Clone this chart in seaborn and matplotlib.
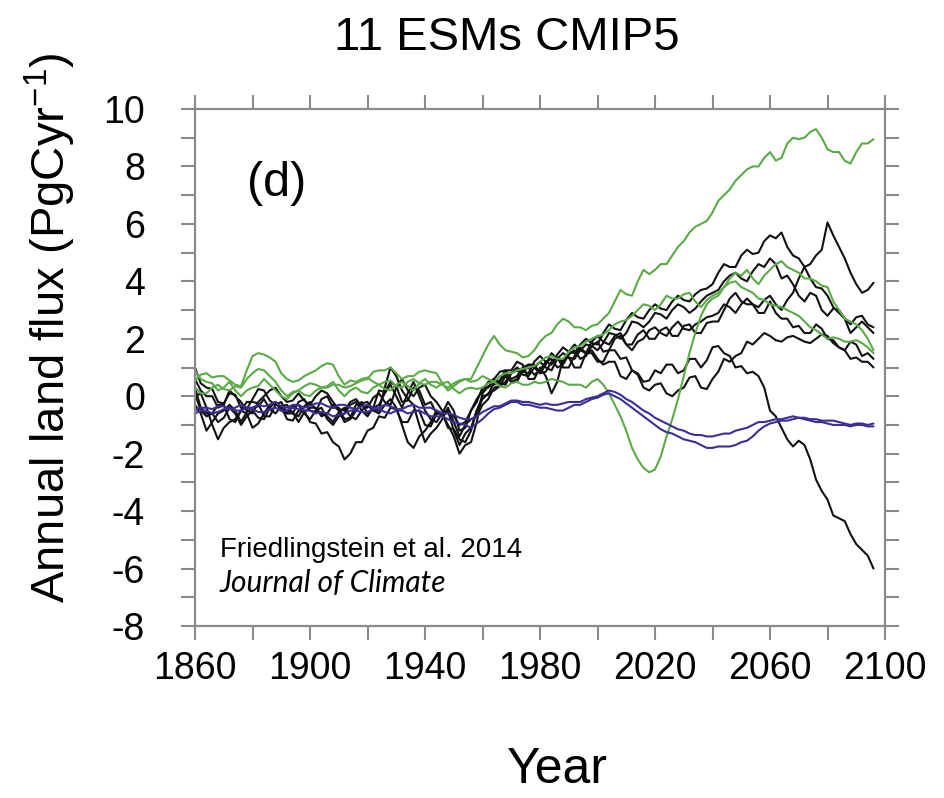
import matplotlib
matplotlib.use("Agg")
import matplotlib.pyplot as plt
import numpy as np
import pandas as pd
import seaborn as sns
from matplotlib.ticker import FixedLocator

# ---------------- data ----------------
# values at 1860, 1864, ..., 2096  and at the years in between (1862, 1866, ..., 2094)
years = list(range(1860, 2097, 4))
years_mid = list(range(1862, 2095, 4))

B1 = [1.0, 0.3, -0.2, 0.1, -0.4, -0.1, 0.2, -0.3, -0.6, -0.2,
      -0.5, -0.1, -0.4, -0.8, -0.3, -0.6, 0.2, 0.5, -0.2, 0.3,
      -0.3, -0.6, -0.2, -1.2, -0.5, 0.3, 0.6, 0.9, 0.7, 1.1,
      0.8, 1.2, 1.0, 1.4, 1.5, 1.2, 1.6, 1.3, 0.9, 0.5,
      0.9, 1.1, 0.8, 1.3, 1.0, 1.7, 1.5, 1.0, 0.8, 0.7,
      -0.5, -1.1, -1.75, -1.7, -2.9, -3.6, -4.25, -4.8, -5.35, -6.0]
B1_mid = [0.45, 0.25, -0.25, 0.05, -0.45, 0.25, -0.15, -0.2, -0.6, -0.1,
          -0.55, 0.0, -0.4, -0.75, -0.2, -0.4, 0.15, 0.35, -0.15, 0.2,
          -0.2, -0.6, -0.5, -1.1, -0.2, 0.3, 0.85, 0.6, 1.0, 1.1,
          0.85, 1.35, 1.0, 1.7, 1.5, 1.2, 1.6, 1.35, 0.8, 0.55,
          0.8, 1.1, 0.9, 1.3, 1.25, 1.75, 1.4, 1.05, 0.85, 0.3,
          -0.7, -1.5, -1.55, -2.2, -3.3, -4.15, -4.35, -5.15, -5.55]

B2 = [0.3, -0.6, -0.3, -0.8, -0.5, -0.2, -0.7, -0.3, -0.8, -0.5,
      -0.9, -1.3, -1.6, -2.2, -1.6, -1.2, -0.7, -0.4, -0.9, -0.5,
      -1.0, -0.6, -1.1, -1.5, -1.2, 0.0, 0.5, 0.9, 1.2, 0.6,
      1.0, 0.1, 1.3, 1.0, 1.5, 1.3, 1.2, 0.7, 0.9, 0.3,
      0.4, 0.1, 0.2, 0.65, 0.3, 0.6, 1.3, 1.4, 1.9, 2.0,
      2.1, 1.9, 2.1, 1.9, 2.0, 2.1, 1.7, 1.3, 1.2, 1.0]
B2_mid = [-0.4, -0.6, -0.3, -0.9, -0.2, -0.25, -0.7, -0.35, -0.85, -0.5,
          -0.95, -1.25, -1.75, -2.0, -1.6, -1.1, -0.75, -0.45, -0.9, -0.5,
          -1.05, -0.6, -1.15, -1.6, -0.5, 0.05, 0.55, 0.9, 1.1, 0.6,
          0.7, 0.5, 1.35, 1.0, 1.6, 1.1, 1.2, 0.6, 0.75, 0.2,
          0.45, 0.0, 0.3, 0.7, 0.25, 0.85, 1.2, 1.5, 1.8, 2.2,
          1.95, 2.05, 2.0, 1.85, 2.15, 1.85, 1.6, 1.35, 1.2]

B3 = [0.0, -0.4, -1.5, -0.9, -0.5, -1.1, -0.6, -0.2, -0.5, -0.9,
      -0.4, -0.7, -0.3, -0.9, -0.5, -0.2, -0.6, -0.1, -1.0, -1.8,
      -1.2, -0.5, -1.0, -2.0, -1.6, 0.1, 0.4, 0.8, 0.6, 1.0,
      0.9, 1.3, 1.1, 1.6, 1.4, 1.9, 1.6, 2.1, 1.8, 2.3,
      2.0, 2.4, 2.1, 2.5, 2.2, 2.6, 3.0, 3.6, 3.2, 2.9,
      3.3, 2.7, 2.4, 2.2, 2.5, 2.0, 1.7, 1.9, 1.4, 1.3]
B3_mid = [0.1, -1.0, -1.1, -0.8, -0.6, -0.95, -0.3, -0.45, -0.55, -0.55,
          -0.4, -0.6, -0.5, -0.8, -0.25, -0.5, -0.3, -0.4, -1.6, -1.4,
          -0.9, -0.6, -1.4, -1.7, -0.9, 0.35, 0.5, 0.5, 0.9, 0.75,
          1.2, 1.0, 1.45, 1.3, 1.75, 1.55, 2.0, 1.8, 2.15, 2.0,
          2.3, 2.1, 2.45, 2.2, 2.55, 2.6, 3.4, 3.3, 3.2, 2.9,
          2.9, 2.7, 2.45, 2.2, 2.35, 1.95, 1.6, 1.8, 1.5]

B4 = [-0.3, -1.2, -0.6, -0.3, -0.9, -0.4, -0.1, -0.6, -0.3, -0.7,
      -0.2, -0.6, -0.9, -0.4, -0.8, -0.3, -0.5, 1.0, 0.2, -0.3,
      -1.6, -1.1, -0.4, -1.4, -0.8, -0.3, 0.3, 0.5, 0.9, 0.7,
      1.2, 0.9, 1.5, 1.3, 1.8, 1.6, 2.2, 2.0, 2.6, 2.4,
      2.9, 2.7, 3.2, 2.9, 3.3, 3.6, 4.0, 4.3, 4.0, 4.6,
      4.8, 4.1, 3.9, 3.3, 3.5, 2.8, 3.0, 2.5, 2.8, 2.4]
B4_mid = [-0.6, -0.9, -0.5, -0.5, -0.55, -0.35, -0.45, -0.35, -0.6, -0.35,
          -0.45, -0.7, -0.55, -0.7, -0.5, -0.5, 0.3, 0.7, -0.1, -1.0,
          -1.3, -0.8, -0.9, -1.0, -0.7, -0.1, 0.35, 0.8, 0.75, 1.0,
          1.0, 1.3, 1.35, 1.6, 1.75, 1.85, 2.15, 2.2, 2.55, 2.6,
          2.85, 3.0, 3.1, 3.05, 3.5, 3.7, 4.2, 4.1, 4.35, 4.5,
          4.6, 4.2, 3.5, 3.6, 3.0, 3.05, 2.7, 2.75, 2.5]

B5 = [0.6, 0.0, -0.4, 0.2, -0.2, -0.6, 0.0, 0.3, -0.2, 0.1,
      -0.3, 0.2, -0.2, -0.5, -0.1, -0.4, 0.1, -0.3, 0.6, 0.0,
      0.4, -0.2, -0.6, -1.0, -0.5, 0.2, 0.6, 0.4, 1.0, 0.8,
      1.4, 1.1, 1.7, 1.5, 2.0, 1.8, 2.5, 2.3, 2.9, 2.7,
      3.2, 3.0, 3.5, 3.3, 3.7, 3.9, 4.6, 4.5, 5.1, 5.0,
      5.6, 5.7, 4.9, 4.5, 3.8, 3.5, 2.9, 2.2, 2.6, 2.2]
B5_mid = [0.2, 0.0, -0.3, 0.0, -0.5, -0.2, 0.2, 0.0, -0.15, -0.15,
          0.0, 0.1, -0.45, -0.2, -0.35, -0.05, -0.2, 0.3, 0.2, 0.3,
          0.0, -0.5, -0.7, -0.9, -0.1, 0.5, 0.45, 0.8, 0.85, 1.2,
          1.2, 1.45, 1.55, 1.8, 1.85, 2.2, 2.35, 2.65, 2.75, 3.0,
          3.05, 3.3, 3.35, 3.55, 3.75, 4.3, 4.5, 4.9, 4.95, 5.4,
          5.5, 5.2, 4.8, 4.1, 3.75, 3.1, 2.7, 2.4, 2.4]

B6 = [0.1, -0.7, -0.9, -0.4, -1.0, -0.5, -0.8, -0.2, -0.6, -0.3,
      -0.8, -0.4, -1.0, -0.6, -0.2, -0.7, -0.3, 0.4, -0.4, 0.5,
      -0.5, -0.9, -0.5, -1.7, -1.1, -0.1, 0.2, 0.7, 0.5, 1.1,
      0.8, 1.5, 1.2, 1.8, 1.5, 2.1, 1.8, 2.2, 1.6, 2.0,
      2.4, 2.1, 2.6, 2.3, 2.6, 2.8, 3.2, 2.9, 3.4, 3.1,
      3.5, 3.0, 3.6, 4.5, 4.9, 6.05, 5.2, 4.3, 3.6, 3.95]
B6_mid = [-0.5, -0.6, -0.75, -0.6, -0.7, -0.75, -0.4, -0.5, -0.35, -0.6,
          -0.5, -0.8, -0.7, -0.3, -0.5, -0.4, 0.1, 0.0, 0.1, 0.0,
          -0.8, -0.6, -1.2, -1.3, -0.5, 0.1, 0.35, 0.5, 0.9, 1.0,
          1.1, 1.3, 1.55, 1.6, 1.9, 1.9, 2.1, 1.8, 1.9, 2.3,
          2.2, 2.4, 2.35, 2.5, 2.75, 2.9, 3.1, 3.2, 3.2, 3.35,
          3.2, 3.35, 4.1, 4.6, 5.1, 5.6, 4.8, 3.9, 3.7]

G1 = [0.3, 0.1, 0.4, 0.2, 0.3, 0.8, 0.9, 0.5, 0.0, 0.2,
      0.45, 0.3, 0.4, 0.3, 0.45, 0.6, 0.9, 1.0, 0.6, 0.7,
      0.9, 0.8, 0.2, 0.5, 0.6, 1.4, 2.1, 1.6, 1.5, 1.4,
      1.9, 2.2, 2.7, 2.4, 2.3, 2.5, 2.9, 3.7, 3.5, 4.4,
      4.4, 4.6, 5.2, 5.7, 6.0, 6.4, 7.0, 7.5, 7.9, 8.0,
      8.5, 8.3, 9.0, 9.0, 9.3, 8.6, 8.5, 8.1, 8.8, 8.95]
G1_mid = [0.1, 0.3, 0.25, 0.35, 0.6, 0.95, 0.7, 0.2, 0.15, 0.35,
          0.4, 0.3, 0.4, 0.35, 0.55, 0.85, 0.9, 0.8, 0.7, 0.85,
          0.85, 0.45, 0.35, 0.6, 1.0, 1.8, 1.8, 1.55, 1.35, 1.6,
          2.1, 2.5, 2.6, 2.4, 2.45, 2.7, 3.3, 3.55, 4.0, 4.25,
          4.6, 4.9, 5.4, 5.9, 6.1, 6.8, 7.2, 7.7, 8.0, 8.3,
          8.2, 8.8, 8.95, 9.2, 9.0, 8.5, 8.2, 8.5, 8.8]

G2 = [0.55, 0.8, 0.7, 0.55, 0.35, 1.4, 1.45, 1.2, 0.6, 0.55,
      0.8, 1.05, 1.1, 0.4, 0.5, 0.65, 0.4, 0.55, 0.3, 0.6,
      0.4, 0.5, 0.3, 0.55, 0.5, 0.7, 0.5, 0.8, 0.9, 1.0,
      1.2, 1.4, 1.3, 1.7, 1.9, 2.1, 2.3, 2.6, 2.8, 3.2,
      3.0, 3.5, 3.4, 3.6, 3.1, 3.5, 3.8, 4.0, 3.7, 3.4,
      3.2, 3.1, 2.9, 2.6, 2.3, 2.0, 2.0, 1.9, 1.85, 1.5]
G2_mid = [0.75, 0.65, 0.7, 0.4, 0.9, 1.5, 1.35, 0.8, 0.5, 0.7,
          0.9, 1.15, 0.7, 0.55, 0.6, 0.5, 0.5, 0.35, 0.5, 0.45,
          0.5, 0.4, 0.45, 0.6, 0.55, 0.6, 0.7, 0.8, 0.95, 1.05,
          1.35, 1.3, 1.55, 1.75, 2.0, 2.15, 2.5, 2.65, 3.0, 3.15,
          3.2, 3.4, 3.55, 3.3, 3.35, 3.6, 3.95, 3.8, 3.6, 3.35,
          3.15, 3.0, 2.8, 2.4, 2.15, 2.05, 1.9, 1.95, 1.7]

G3 = [0.9, 0.5, 0.2, 0.5, 0.0, 0.3, 0.6, 0.2, -0.1, 0.2,
      0.0, 0.3, 0.5, 0.0, 0.3, 0.1, 0.4, 0.2, 0.5, 0.2,
      0.6, 0.3, 0.5, 0.1, 0.3, 0.3, 0.5, 0.3, 0.5, 0.4,
      0.45, 0.6, 0.5, 0.4, 0.3, 0.6, 0.1, -0.7, -1.8, -2.5,
      -2.55, -1.4, -0.1, 1.5, 2.8, 3.4, 3.8, 4.3, 4.4, 3.9,
      4.4, 4.7, 4.4, 4.1, 4.0, 3.8, 3.0, 2.6, 2.3, 1.6]
G3_mid = [0.6, 0.45, 0.3, 0.2, 0.2, 0.35, 0.4, 0.0, 0.1, 0.05,
          0.2, 0.35, 0.2, 0.2, 0.15, 0.3, 0.25, 0.4, 0.35, 0.45,
          0.4, 0.45, 0.25, 0.25, 0.25, 0.45, 0.35, 0.45, 0.4, 0.5,
          0.5, 0.55, 0.4, 0.4, 0.5, 0.4, -0.3, -1.2, -2.2, -2.65,
          -2.1, -0.8, 0.7, 2.2, 3.2, 3.5, 4.1, 4.2, 4.1, 4.2,
          4.6, 4.5, 4.3, 4.1, 3.85, 3.3, 2.7, 2.5, 2.0]

BL1 = [-0.5, -0.4, -0.35, -0.45, -0.3, -0.4, -0.35, -0.2, -0.4, -0.3,
       -0.35, -0.25, -0.4, -0.3, -0.45, -0.3, -0.4, -0.35, -0.45, -0.3,
       -0.4, -0.5, -0.6, -0.75, -0.8, -0.55, -0.35, -0.25, -0.15, -0.2,
       -0.3, -0.3, -0.25, -0.2, -0.1, 0.0, 0.2, 0.05, -0.2, -0.5,
       -0.75, -0.95, -1.15, -1.3, -1.35, -1.4, -1.3, -1.2, -1.1, -0.9,
       -0.85, -0.8, -0.7, -0.75, -0.8, -0.85, -0.9, -1.0, -0.95, -0.95]
BL1_mid = [-0.4, -0.45, -0.35, -0.4, -0.4, -0.3, -0.3, -0.35, -0.3, -0.4,
           -0.25, -0.35, -0.3, -0.4, -0.35, -0.4, -0.3, -0.45, -0.35, -0.4,
           -0.4, -0.6, -0.65, -0.8, -0.7, -0.45, -0.35, -0.15, -0.2, -0.25,
           -0.25, -0.3, -0.2, -0.2, -0.05, 0.1, 0.15, -0.1, -0.35, -0.6,
           -0.85, -1.05, -1.2, -1.35, -1.4, -1.35, -1.3, -1.15, -1.0, -0.9,
           -0.8, -0.75, -0.75, -0.8, -0.85, -0.85, -0.95, -0.95, -1.0]

BL2 = [-0.6, -0.5, -0.55, -0.4, -0.5, -0.45, -0.55, -0.4, -0.5, -0.45,
       -0.5, -0.55, -0.7, -0.6, -0.5, -0.55, -0.45, -0.6, -0.5, -0.55,
       -0.6, -0.7, -0.8, -0.95, -1.1, -0.8, -0.45, -0.3, -0.2, -0.3,
       -0.4, -0.45, -0.5, -0.3, -0.2, -0.05, 0.1, -0.1, -0.4, -0.7,
       -1.0, -1.25, -1.4, -1.55, -1.7, -1.8, -1.75, -1.7, -1.55, -1.2,
       -0.95, -0.85, -0.8, -0.8, -0.9, -0.95, -1.0, -1.05, -1.0, -1.05]
BL2_mid = [-0.5, -0.6, -0.45, -0.5, -0.4, -0.55, -0.45, -0.5, -0.4, -0.5,
           -0.6, -0.6, -0.65, -0.5, -0.55, -0.45, -0.55, -0.5, -0.6, -0.5,
           -0.7, -0.7, -0.9, -1.0, -0.95, -0.6, -0.4, -0.2, -0.3, -0.35,
           -0.4, -0.5, -0.4, -0.3, -0.1, 0.05, 0.0, -0.25, -0.55, -0.85,
           -1.15, -1.3, -1.5, -1.6, -1.8, -1.75, -1.75, -1.6, -1.4, -1.05,
           -0.9, -0.85, -0.75, -0.85, -0.9, -1.0, -1.0, -1.0, -1.05]

series = {"B1": (B1, B1_mid), "B2": (B2, B2_mid), "B3": (B3, B3_mid),
          "B4": (B4, B4_mid), "B5": (B5, B5_mid), "B6": (B6, B6_mid),
          "G1": (G1, G1_mid), "G2": (G2, G2_mid), "G3": (G3, G3_mid),
          "BL1": (BL1, BL1_mid), "BL2": (BL2, BL2_mid)}

x_major = [1860, 1900, 1940, 1980, 2020, 2060, 2100]
x_minor = [1880, 1920, 1960, 2000, 2040, 2080]
y_major = [-8, -6, -4, -2, 0, 2, 4, 6, 8, 10]
y_minor = [-7, -5, -3, -1, 1, 3, 5, 7, 9]

BLACK = "#111111"
GREEN = "#5aab46"
BLUE = "#3a2f98"
palette = {}
for k in series:
    if k.startswith("BL"):
        palette[k] = BLUE
    elif k.startswith("G"):
        palette[k] = GREEN
    else:
        palette[k] = BLACK

rows = []
for name, (vals, mids) in series.items():
    for yr, v in zip(years, vals):
        rows.append((name, yr, v))
    for yr, v in zip(years_mid, mids):
        rows.append((name, yr, v))
df = pd.DataFrame(rows, columns=["model", "year", "flux"]).sort_values(["model", "year"])

# ---------------- figure ----------------
sns.set_theme(style="white")
plt.rcParams["font.family"] = ["Liberation Sans", "DejaVu Sans"]
plt.rcParams["mathtext.fontset"] = "custom"
plt.rcParams["mathtext.rm"] = "Liberation Sans"
plt.rcParams["mathtext.it"] = "Liberation Sans:italic"

fig = plt.figure(figsize=(9.44, 7.98), dpi=100)
fig.patch.set_facecolor("white")
ax = fig.add_axes([195 / 944, 1 - 626 / 798, 690 / 944, 517 / 798])

sns.lineplot(data=df, x="year", y="flux", hue="model",
             hue_order=list(series.keys()), palette=palette,
             estimator=None, legend=False, linewidth=1.5, ax=ax)

ax.set_xlim(1860, 2100)
ax.set_ylim(-8, 10)
ax.xaxis.set_major_locator(FixedLocator(x_major))
ax.xaxis.set_minor_locator(FixedLocator(x_minor))
ax.yaxis.set_major_locator(FixedLocator(y_major))
ax.yaxis.set_minor_locator(FixedLocator(y_minor))
ax.set_xticklabels([str(v) for v in x_major])
ax.set_yticklabels([str(v) for v in y_major])

spine_col = "#8a8a8a"
for s in ax.spines.values():
    s.set_color(spine_col)
    s.set_linewidth(1.6)
    s.set_visible(True)

ax.tick_params(which="both", direction="out", length=10, width=1.5,
               color=spine_col, top=True, right=True, bottom=True, left=True,
               labeltop=False, labelright=False)
ax.tick_params(axis="x", which="major", labelsize=27, pad=8, labelcolor="black")
ax.tick_params(axis="y", which="major", labelsize=27, pad=26, labelcolor="black")

ax.set_xlabel("")
ax.set_ylabel("")
ax.grid(False)

ax.text(1888.5, 7.42, "(d)", fontsize=35, ha="center", va="center", color="black")
ax.text(1868.7, -5.36, "Friedlingstein et al. 2014", fontsize=20,
        ha="left", va="center", color="black")
ax.text(1868.7, -6.5, "Journal of Climate", fontsize=21.5, style="italic",
        family=["Lato", "Liberation Sans"], ha="left", va="center", color="black")

fig.text(507 / 944, 1 - 38 / 798, "11 ESMs CMIP5", fontsize=34,
         ha="center", va="center", color="black")
fig.text(50 / 944, 1 - 328 / 798, "Annual land flux (PgCyr$^{-1}$)", fontsize=34,
         rotation=90, ha="center", va="center", color="black")
fig.text(557 / 944, 1 - 770 / 798, "Year", fontsize=36,
         ha="center", va="center", color="black")

fig.savefig("out.png", dpi=100, facecolor="white")
